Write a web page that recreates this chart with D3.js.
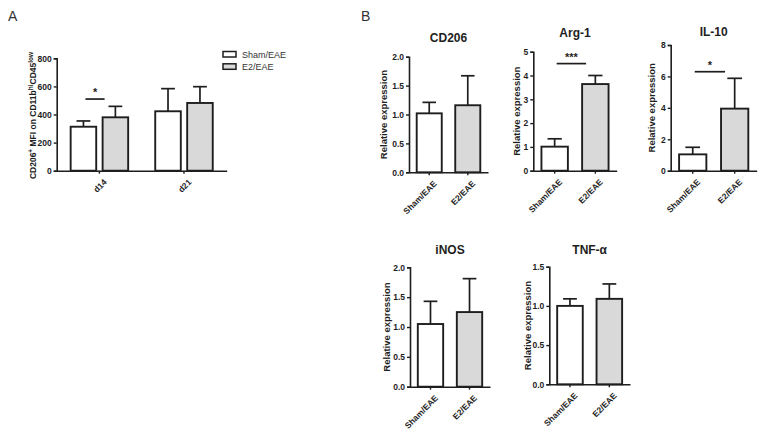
<!DOCTYPE html>
<html><head><meta charset="utf-8">
<script src="https://cdn.jsdelivr.net/npm/d3@7"></script>
<style>body{margin:0;background:#fff}svg{display:block}text{font-family:Arial,"Liberation Sans",sans-serif}</style>
</head><body>
<svg id="c" width="764" height="440"></svg>
<script>
// ---------- data ----------
const groups = ["Sham/EAE", "E2/EAE"];
// Panel A
const days = ["d14", "d21"];
const mfiSham = [313, 423];
const mfiShamErr = [41, 161];
const mfiE2 = [380, 482];
const mfiE2Err = [78, 116];
const mfiTicks = [0, 200, 400, 600, 800];
const mfiSig = [{day: "d14", y: 510, label: "*"}];
// Panel B
const genes = ["CD206", "Arg-1", "IL-10", "iNOS", "TNF-α"];
const geneSham = [1.02, 1.01, 1.04, 1.05, 1.00];
const geneShamErr = [0.19, 0.33, 0.45, 0.38, 0.09];
const geneE2 = [1.16, 3.64, 3.95, 1.25, 1.09];
const geneE2Err = [0.51, 0.36, 1.93, 0.56, 0.19];
const geneYMax = [2, 5, 8, 2, 1.5];
const geneTicks = [[0, 0.5, 1, 1.5, 2], [0, 1, 2, 3, 4, 5], [0, 2, 4, 6, 8], [0, 0.5, 1, 1.5, 2], [0, 0.5, 1, 1.5]];
const geneTickFmt = [".1f", "d", "d", ".1f", ".1f"];
const geneSigY = [null, 4.5, 6.3, null, null];
const geneSigLabel = [null, "***", "*", null, null];

// ---------- layout ----------
const FILL = {"Sham/EAE": "#ffffff", "E2/EAE": "#d9d9d9"};
const layA = {x0: 56.7, x1: 226.7, yTop: 58.3, y0: 170.7};
const layB = [
  {x0: 409, x1: 488, yTop: 56.7, y0: 172.3, titleY: 42, labX: 384},
  {x0: 533.3, x1: 616.7, yTop: 51.7, y0: 170.7, titleY: 37, labX: 517},
  {x0: 670.7, x1: 756.7, yTop: 45, y0: 170.7, titleY: 36, labX: 652},
  {x0: 410, x1: 490, yTop: 267.3, y0: 386.7, titleY: 254, labX: 386.5},
  {x0: 549.3, x1: 630, yTop: 266.7, y0: 384.3, titleY: 254, labX: 528}
];

const svg = d3.select("#c");
const FONT = 'Arial,"Liberation Sans",sans-serif';
const INK = "#1e1e1e";

function drawYAxis(g, y, x0, ticks, fmt) {
  const ax = g.append("g").attr("transform", `translate(${x0},0)`)
    .call(d3.axisLeft(y).tickValues(ticks).tickSize(3).tickPadding(2).tickFormat(d3.format(fmt)));
  ax.select(".domain").attr("stroke", INK).attr("stroke-width", 1.6);
  ax.selectAll(".tick line").attr("stroke", INK).attr("stroke-width", 1.4);
  ax.selectAll(".tick text").attr("font-family", FONT).attr("font-size", 8.5).attr("font-weight", "bold").attr("fill", INK);
}
function drawXAxis(g, x, y0, offset) {
  const ax = g.append("g").attr("transform", `translate(0,${y0})`)
    .call(d3.axisBottom(x).tickSize(3).tickSizeOuter(0).tickPadding(3));
  ax.select(".domain").attr("stroke", INK).attr("stroke-width", 1.6);
  ax.selectAll(".tick line").attr("stroke", INK).attr("stroke-width", 1.4);
  ax.selectAll(".tick text").attr("font-family", FONT).attr("font-size", 8.5).attr("font-weight", "bold").attr("fill", INK)
    .attr("text-anchor", "end").attr("dy", "0.3em")
    .attr("transform", `translate(${offset + 2},6) rotate(-45)`);
}
function drawBar(g, x, w, y, mean, err, fill, y0) {
  const cx = x + w / 2;
  g.append("line").attr("x1", cx).attr("x2", cx).attr("y1", y(mean)).attr("y2", y(mean + err))
    .attr("stroke", INK).attr("stroke-width", 1.7);
  g.append("line").attr("x1", cx - w * 0.27).attr("x2", cx + w * 0.27).attr("y1", y(mean + err)).attr("y2", y(mean + err))
    .attr("stroke", INK).attr("stroke-width", 1.7);
  g.append("rect").attr("x", x).attr("y", y(mean)).attr("width", w).attr("height", y0 - y(mean))
    .attr("fill", fill).attr("stroke", INK).attr("stroke-width", 1.9);
}

// ---------- Panel A ----------
svg.append("text").attr("x", 8).attr("y", 21).attr("font-size", 14).attr("fill", "#333").text("A");
{
  const g = svg.append("g");
  const y = d3.scaleLinear().domain([0, 800]).range([layA.y0, layA.yTop]);
  const x = d3.scaleBand().domain(days).range([layA.x0, layA.x1]).paddingInner(0.32).paddingOuter(0.165);
  const xi = d3.scaleBand().domain(groups).range([0, x.bandwidth()]).paddingInner(0.2);
  days.forEach((d, i) => {
    drawBar(g, x(d) + xi("Sham/EAE"), xi.bandwidth(), y, mfiSham[i], mfiShamErr[i], FILL["Sham/EAE"], layA.y0);
    drawBar(g, x(d) + xi("E2/EAE"), xi.bandwidth(), y, mfiE2[i], mfiE2Err[i], FILL["E2/EAE"], layA.y0);
  });
  drawYAxis(g, y, layA.x0, mfiTicks, "d");
  drawXAxis(g, x, layA.y0, 0);
  mfiSig.forEach(s => {
    const xs = x(s.day) + xi("Sham/EAE") + xi.bandwidth() / 2 + 2;
    const xe = x(s.day) + xi("E2/EAE") + 2;
    g.append("line").attr("x1", xs).attr("x2", xe).attr("y1", y(s.y)).attr("y2", y(s.y)).attr("stroke", INK).attr("stroke-width", 1.7);
    g.append("text").attr("x", (xs + xe) / 2).attr("y", y(s.y) - 3).attr("text-anchor", "middle")
      .attr("font-size", 11).attr("font-weight", "bold").attr("fill", INK).text(s.label);
  });
  // y label
  const t = svg.append("text").attr("transform", `translate(36,${(layA.y0 + layA.yTop) / 2 + 1}) rotate(-90)`)
    .attr("text-anchor", "middle").attr("font-size", 8.5).attr("font-weight", "bold").attr("fill", INK);
  t.append("tspan").text("CD206");
  t.append("tspan").attr("baseline-shift", "super").attr("font-size", 6.5).text("+");
  t.append("tspan").text(" MFI on CD11b");
  t.append("tspan").attr("baseline-shift", "super").attr("font-size", 6.5).text("hi");
  t.append("tspan").text("CD45");
  t.append("tspan").attr("baseline-shift", "super").attr("font-size", 6.5).text("low");
  // legend
  groups.forEach((k, i) => {
    const ly = 51.5 + i * 12.3;
    svg.append("rect").attr("x", 223).attr("y", ly).attr("width", 13).attr("height", 5.5)
      .attr("fill", FILL[k]).attr("stroke", INK).attr("stroke-width", 1.5);
    svg.append("text").attr("x", 242).attr("y", ly + 6.5).attr("font-size", 9).attr("fill", "#333").text(k);
  });
}

// ---------- Panel B ----------
svg.append("text").attr("x", 361).attr("y", 21).attr("font-size", 14).attr("fill", "#333").text("B");
genes.forEach((gene, i) => {
  const L = layB[i];
  const g = svg.append("g");
  const y = d3.scaleLinear().domain([0, geneYMax[i]]).range([L.y0, L.yTop]);
  const x = d3.scaleBand().domain(groups).range([L.x0, L.x1]).paddingInner(0.35).paddingOuter(0.2);
  drawBar(g, x("Sham/EAE"), x.bandwidth(), y, geneSham[i], geneShamErr[i], FILL["Sham/EAE"], L.y0);
  drawBar(g, x("E2/EAE"), x.bandwidth(), y, geneE2[i], geneE2Err[i], FILL["E2/EAE"], L.y0);
  drawYAxis(g, y, L.x0, geneTicks[i], geneTickFmt[i]);
  drawXAxis(g, x, L.y0, 0);
  if (geneSigY[i] != null) {
    const xs = x("Sham/EAE") + x.bandwidth() / 2 + 2;
    const xe = x("E2/EAE") + 4;
    g.append("line").attr("x1", xs).attr("x2", xe).attr("y1", y(geneSigY[i])).attr("y2", y(geneSigY[i])).attr("stroke", INK).attr("stroke-width", 1.7);
    g.append("text").attr("x", (xs + xe) / 2).attr("y", y(geneSigY[i]) - 3).attr("text-anchor", "middle")
      .attr("font-size", 11).attr("font-weight", "bold").attr("fill", INK).text(geneSigLabel[i]);
  }
  svg.append("text").attr("x", (L.x0 + L.x1) / 2).attr("y", L.titleY).attr("text-anchor", "middle")
    .attr("font-size", 12).attr("font-weight", "bold").attr("fill", INK).text(gene);
  svg.append("text").attr("transform", `translate(${L.labX + 3},${(L.y0 + L.yTop) / 2}) rotate(-90)`)
    .attr("text-anchor", "middle").attr("font-size", 9.5).attr("font-weight", "bold").attr("fill", INK)
    .text("Relative expression");
});
</script>
</body></html>
